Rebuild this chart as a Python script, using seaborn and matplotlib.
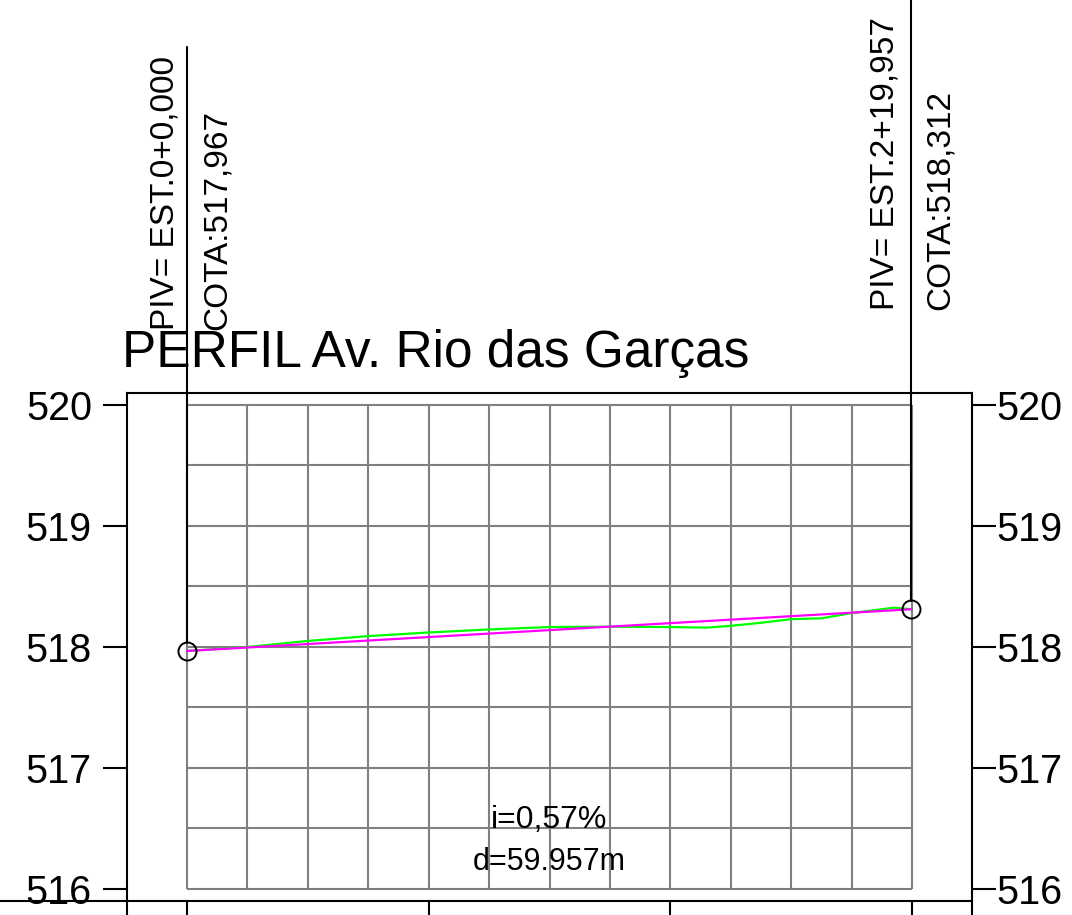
import pandas as pd
import matplotlib
matplotlib.use("Agg")
import matplotlib.pyplot as plt
from matplotlib import font_manager
import seaborn as sns

# PIV points (station in m, elevation in m)
piv_station = [0.0, 59.957]
piv_cota = [517.967, 518.312]
piv_labels = ["PIV= EST.0+0,000", "PIV= EST.2+19,957"]
cota_labels = ["COTA:517,967", "COTA:518,312"]

# terrain profile (green)
terrain_station = [0, 5, 10, 15, 20, 25, 30, 35, 40, 43, 45, 47.5, 50, 52.5, 55, 58.5, 59.957]
terrain_elev = [517.967, 518.00, 518.05, 518.09, 518.12, 518.145, 518.165, 518.168, 518.165,
                518.16, 518.175, 518.20, 518.23, 518.237, 518.28, 518.325, 518.312]

y_ticks = [516, 517, 518, 519, 520]
x_ticks = [0, 20, 40, 60]
title = "PERFIL Av. Rio das Garças"
slope_text = "i=0,57%"
dist_text = "d=59.957m"

sns.set_theme(style="white")
plt.rcParams['font.family'] = ['Liberation Sans', 'DejaVu Sans']
plt.rcParams['text.color'] = 'black'
plt.rcParams['ytick.color'] = 'black'
plt.rcParams['ytick.labelcolor'] = 'black'

names = {f.name for f in font_manager.fontManager.ttflist}
if 'Liberation Sans Narrow' in names:
    vfont, vsize = 'Liberation Sans Narrow', 29.5
else:
    vfont, vsize = 'Liberation Sans', 24

fig = plt.figure(figsize=(10.72, 9.15), dpi=100)
ax = fig.add_axes([0.1181, 0.0152, 0.789, 0.5554])
ax.set_xlim(-5, 65)
ax.set_ylim(515.9, 520.1)

# grid
grid_x = list(range(0, 61, 5))
grid_y = [516 + 0.5 * k for k in range(9)]
ax.vlines(grid_x, 516, 520, color='#808080', lw=1.5, zorder=1)
ax.hlines(grid_y, 0, 60, color='#808080', lw=1.5, zorder=1)

terrain = pd.DataFrame({'station': terrain_station, 'elev': terrain_elev})
grade = pd.DataFrame({'station': piv_station, 'elev': piv_cota})
sns.lineplot(data=terrain, x='station', y='elev', color='#00ff00', lw=1.6, ax=ax, zorder=3)
sns.lineplot(data=grade, x='station', y='elev', color='#ff00ff', lw=1.6, ax=ax, zorder=4)

# PIV vertical lines and circles
tops = [522.96, 523.4]
for st, ct, top in zip(piv_station, piv_cota, tops):
    ax.plot([st, st], [ct + 0.07, top], color='black', lw=1.5, clip_on=False, zorder=5)
ax.plot(piv_station, piv_cota, 'o', mfc='none', mec='black', ms=13, mew=1.4,
        clip_on=False, zorder=6)

# rotated labels
piv_x = [-1.82, 57.77]
cota_x = [2.48, 62.32]
label_y = [520.62, 520.785]
for i in range(2):
    ax.text(piv_x[i], label_y[i], piv_labels[i], rotation=90, ha='center', va='bottom',
            fontsize=vsize, family=vfont, color='black', clip_on=False)
    ax.text(cota_x[i], label_y[i], cota_labels[i], rotation=90, ha='center', va='bottom',
            fontsize=vsize, family=vfont, color='black', clip_on=False)

ax.text(30, 516.504, slope_text, ha='center', va='baseline', fontsize=23, color='black')
ax.text(30, 516.157, dist_text, ha='center', va='baseline', fontsize=22, color='black')

fig.text(122 / 1072, 1 - 367 / 915, title, ha='left', va='baseline', fontsize=37, color='black')

# frame and ticks
for s in ax.spines.values():
    s.set_color('black')
    s.set_linewidth(1.5)
ax.set_yticks(y_ticks)
ax.set_xticks(x_ticks)
ax.set_xticklabels([])
ax.set_xlabel('')
ax.set_ylabel('')
ax.tick_params(axis='y', direction='out', length=17, width=1.5, color='black',
               labelsize=28.5, labelcolor='black', left=True, right=False, pad=8)
ax.tick_params(axis='x', direction='out', length=10, width=1.5, color='black', bottom=True)

# right axis: same scale, labels right next to the ticks
ax2 = ax.twinx()
ax2.set_ylim(ax.get_ylim())
ax2.set_yticks(y_ticks)
ax2.tick_params(axis='y', direction='out', length=17, width=1.5, color='black',
                labelsize=28.5, labelcolor='black', pad=0)
ax2.grid(False)
for s in ax2.spines.values():
    s.set_visible(False)

# spine extensions
ax.plot([-5, -5], [515.9, 515.78], color='black', lw=1.5, clip_on=False)
ax.plot([65, 65], [515.9, 515.78], color='black', lw=1.5, clip_on=False)
ax.plot([-15.6, -5], [515.9, 515.9], color='black', lw=1.5, clip_on=False)

fig.savefig('out.png', dpi=100)
